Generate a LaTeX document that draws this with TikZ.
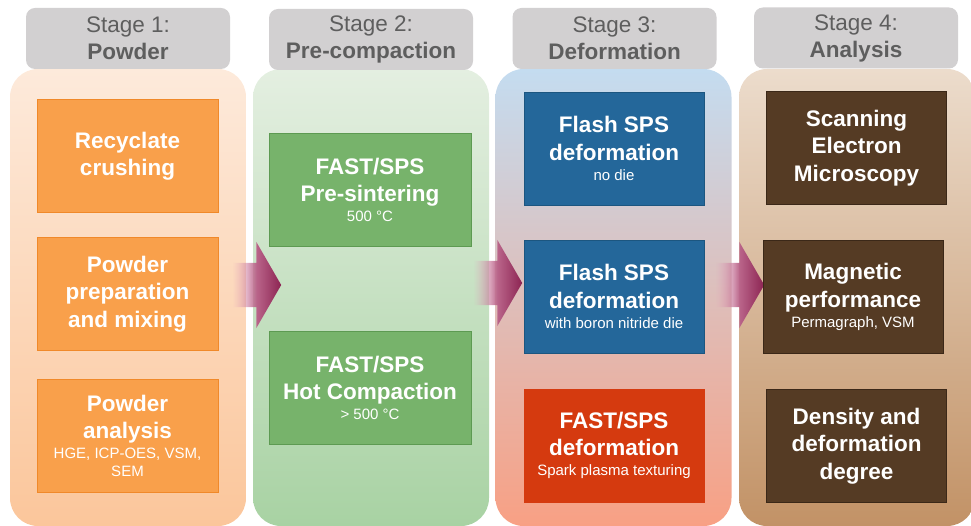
\documentclass[tikz,border=0pt]{standalone}
\usepackage{fontspec}
\setmainfont{Liberation Sans}
\usepackage{tikz}
\usetikzlibrary{shapes.arrows,fadings}

\definecolor{tabgrey}{HTML}{D2D0D1}
\definecolor{tabtext}{HTML}{5E5E5E}
\definecolor{cAtop}{HTML}{FDEADB}
\definecolor{cAbot}{HTML}{FBC69B}
\definecolor{cBtop}{HTML}{E4EFE1}
\definecolor{cBbot}{HTML}{A8D2A3}
\definecolor{cCtop}{HTML}{C4DCF0}
\definecolor{cCbot}{HTML}{F8A084}
\definecolor{cDtop}{HTML}{ECDCCC}
\definecolor{cDbot}{HTML}{C29266}
\definecolor{orfill}{HTML}{F9A04B}
\definecolor{orline}{HTML}{F0892A}
\definecolor{grfill}{HTML}{77B36B}
\definecolor{grline}{HTML}{5D9A52}
\definecolor{blfill}{HTML}{24679A}
\definecolor{blline}{HTML}{1C5680}
\definecolor{rdfill}{HTML}{D53A0F}
\definecolor{brfill}{HTML}{553B24}
\definecolor{brline}{HTML}{3B2818}
\definecolor{arlight}{HTML}{E6A3C0}
\definecolor{ardark}{HTML}{8C2452}

\tikzfading[name=arrowfade, left color=transparent!100, right color=transparent!0, middle color=transparent!0]

\newcommand{\subtxt}[1]{{\mdseries\fontsize{15}{18}\selectfont #1}}

\tikzset{
  stagebg/.style={rounded corners=28pt, minimum width=236pt, minimum height=457pt, inner sep=0pt},
  stagetab/.style={fill=tabgrey, rounded corners=9pt, minimum width=204pt, minimum height=61pt,
    align=center, text=tabtext, font=\fontsize{22.5}{27}\selectfont},
  stepbox/.style={minimum width=181pt, minimum height=113pt, align=center, text=white,
    line width=0.8pt, font=\bfseries\fontsize{22.5}{27.5}\selectfont},
  flow/.style={single arrow, anchor=tail, inner xsep=0pt, inner ysep=22pt, minimum height=49pt,
    single arrow head extend=21pt, single arrow tip angle=120,
    left color=arlight, right color=ardark, path fading=arrowfade}
}

\begin{document}
\begin{tikzpicture}[x=1pt,y=-1pt]
\useasboundingbox (0,0) rectangle (971,526);
\clip (0,0) rectangle (971,526);
% stage backgrounds
\node[stagebg, top color=cAtop, bottom color=cAbot] (bgA) at (128,297.5) {};
\node[stagebg, top color=cBtop, bottom color=cBbot] (bgB) at (371,297.5) {};
\node[stagebg, top color=cCtop, bottom color=cCbot] (bgC) at (613.5,297.5) {};
\node[stagebg, top color=cDtop, bottom color=cDbot] (bgD) at (857,297.5) {};
% headers
\node[stagetab] (tabA) at (128,38.5) {Stage 1:\\\textbf{Powder}};
\node[stagetab] (tabB) at (371,39.5) {Stage 2:\\\textbf{Pre-compaction}};
\node[stagetab] (tabC) at (614.5,38.5) {Stage 3:\\\textbf{Deformation}};
\node[stagetab] (tabD) at (856,38) {Stage 4:\\\textbf{Analysis}};
% arrows between stages
\node[flow] (arAB) at (232,285) {};
\node[flow] (arBC) at (473,283) {};
\node[flow] (arCD) at (715,285) {};
% stage 1
\node[stepbox, fill=orfill, draw=orline] (recycle) at (127.5,156) {Recyclate\\crushing};
\node[stepbox, fill=orfill, draw=orline] (prep) at (127.5,294) {Powder\\preparation\\and mixing};
\node[stepbox, fill=orfill, draw=orline] (panal) at (127.5,436)
  {Powder\\analysis\\[-7.5pt]\subtxt{HGE, ICP-OES, VSM,}\\[-9.5pt]\subtxt{SEM}};
% stage 2
\node[stepbox, minimum width=202pt, fill=grfill, draw=grline] (presint) at (370,190)
  {FAST/SPS\\Pre-sintering\\[-7.5pt]\subtxt{500 °C}};
\node[stepbox, minimum width=202pt, fill=grfill, draw=grline] (hotcomp) at (370,388)
  {FAST/SPS\\Hot Compaction\\[-7.5pt]\subtxt{> 500 °C}};
% stage 3
\node[stepbox, minimum width=180pt, fill=blfill, draw=blline] (flashA) at (614,148.5)
  {Flash SPS\\deformation\\[-7.5pt]\subtxt{no die}};
\node[stepbox, minimum width=180pt, fill=blfill, draw=blline] (flashB) at (614,296.5)
  {Flash SPS\\deformation\\[-7.5pt]\subtxt{with boron nitride die}};
\node[stepbox, minimum width=180pt, fill=rdfill, draw=rdfill] (spt) at (614,445.5)
  {FAST/SPS\\deformation\\[-7.5pt]\subtxt{Spark plasma texturing}};
% stage 4
\node[stepbox, minimum width=180pt, fill=brfill, draw=brline] (sem) at (856.5,148)
  {Scanning\\Electron\\Microscopy};
\node[stepbox, minimum width=180pt, fill=brfill, draw=brline] (magn) at (853,297)
  {Magnetic\\performance\\[-7.5pt]\subtxt{Permagraph, VSM}};
\node[stepbox, minimum width=180pt, fill=brfill, draw=brline] (dens) at (856.5,446)
  {Density and\\deformation\\degree};
\end{tikzpicture}
\end{document}
